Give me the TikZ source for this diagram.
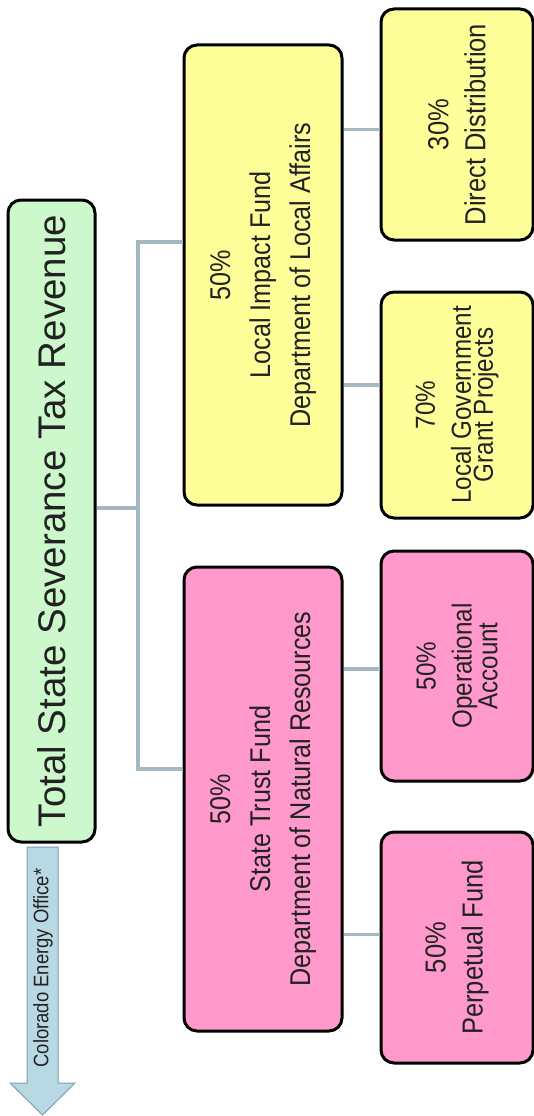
\documentclass[tikz,border=0pt]{standalone}
\usepackage{fontspec}
\setmainfont{Liberation Sans}
\newfontfamily\narrowfont[FakeStretch=0.88]{Liberation Sans}
\usetikzlibrary{calc}
\definecolor{boxgreen}{HTML}{CCF8CC}
\definecolor{boxyellow}{HTML}{FFFF99}
\definecolor{boxpink}{HTML}{FF99CC}
\definecolor{connline}{HTML}{A3B8C0}
\definecolor{arrowfill}{HTML}{B8D8E4}
\definecolor{arrowedge}{HTML}{7F9FB0}
\definecolor{txt}{HTML}{222222}
\begin{document}
\begin{tikzpicture}[x=1pt,y=-1pt,
  box/.style={draw=black, line width=3pt, rounded corners=13pt, rotate=90, inner sep=0pt, align=center, text=txt},
  bigtext/.style={font=\narrowfont\fontsize{28.6}{40}\selectfont},
  leaftext/.style={font=\narrowfont\fontsize{29}{37}\selectfont},
  tighttext/.style={font=\narrowfont\fontsize{27.5}{22}\selectfont},
  conn/.style={draw=connline, line width=3.5pt},
]
\useasboundingbox[fill=white] (0,0) rectangle (534,1116);

% arrow to Colorado Energy Office
\filldraw[fill=arrowfill, draw=arrowedge, line width=1pt]
  (27,847) -- (58,847) -- (58,1083) -- (75,1083) -- (42.5,1115) -- (10,1083) -- (27,1083) -- cycle;
\node[rotate=90, inner sep=0pt, text=txt, font=\narrowfont\fontsize{21}{24}\selectfont] (ceo) at (43,968) {Colorado Energy Office*};

% root
\node[box, fill=boxgreen, minimum width=642pt, minimum height=87pt, font=\fontsize{38.5}{40}\selectfont] (tot) at (51.5,521) {Total State Severance Tax Revenue};

% level 1
\node[box, fill=boxyellow, minimum width=460pt, minimum height=158pt, bigtext] (lif) at (263,275) {50\%\\Local Impact Fund\\Department of Local Affairs};
\node[box, fill=boxpink, minimum width=464pt, minimum height=158pt, bigtext] (stf) at (263,799) {50\%\\State Trust Fund\\Department of Natural Resources};

% level 2
\node[box, fill=boxyellow, minimum width=231pt, minimum height=152pt, leaftext] (dd) at (457,124.5) {30\%\\Direct Distribution};
\node[box, fill=boxyellow, minimum width=226pt, minimum height=152pt, tighttext] (lggp) at (457,405) {70\%\\[14pt]Local Government\\Grant Projects};
\node[box, fill=boxpink, minimum width=230pt, minimum height=152pt, tighttext] (op) at (457,666) {50\%\\[14pt]Operational\\Account};
\node[box, fill=boxpink, minimum width=231pt, minimum height=152pt, leaftext] (pf) at (457,947.5) {50\%\\Perpetual Fund};

% connectors
\coordinate (tr) at (138,508);
\draw[conn] ([yshift=13pt]tot.south) -- (tr);
\draw[conn] ([yshift=33pt]lif.north) -| (tr) |- ([yshift=30pt]stf.north);
\draw[conn] ([yshift=-5pt]dd.north) -- ($(lif.south |- dd.north)+(0,5)$);
\draw[conn] ([yshift=20pt]lggp.north) -- ($(lif.south |- lggp.north)+(0,-20)$);
\draw[conn] ([yshift=-3pt]op.north) -- ($(stf.south |- op.north)+(0,3)$);
\draw[conn] ([yshift=13pt]pf.north) -- ($(stf.south |- pf.north)+(0,-13)$);
\end{tikzpicture}
\end{document}
